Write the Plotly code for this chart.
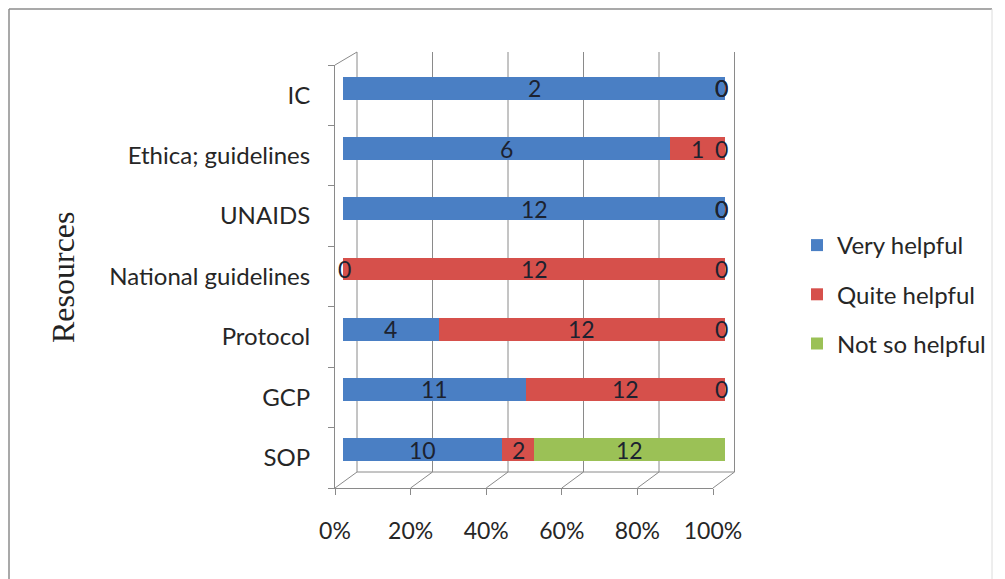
import plotly.graph_objects as go

# ---------------- data ----------------
categories = ["IC", "Ethica; guidelines", "UNAIDS", "National guidelines", "Protocol", "GCP", "SOP"]
very_helpful = [2, 6, 12, 0, 4, 11, 10]
quite_helpful = [0, 1, 0, 12, 12, 12, 2]
not_so_helpful = [0, 0, 0, 0, 0, 0, 12]
series_names = ["Very helpful", "Quite helpful", "Not so helpful"]
x_ticks = [0, 20, 40, 60, 80, 100]
x_tick_labels = ["0%", "20%", "40%", "60%", "80%", "100%"]

colors = ["#4A7FC4", "#D6504B", "#9BC156"]
W, H = 1005, 579
FONT = "Lato"
LABEL_COLOR = "#1c2230"
TEXT_COLOR = "#262626"
OFF = 8  # default page body margin


def px(x):
    return (x - OFF) / W


def py(y):
    return 1 - (y - OFF) / H


series = [very_helpful, quite_helpful, not_so_helpful]

fig = go.Figure()
for name, vals, col in zip(series_names, series, colors):
    fig.add_trace(go.Bar(
        y=categories, x=vals, name=name, orientation="h",
        marker=dict(color=col, line=dict(width=0)),
        xaxis="x", yaxis="y", legendgroup=name, hoverinfo="x+y+name",
    ))

# invisible anchor trace so the front (3D) axes get drawn
fig.add_trace(go.Scatter(
    x=x_ticks[:1], y=[0], mode="markers", marker=dict(opacity=0),
    showlegend=False, hoverinfo="skip", xaxis="x2", yaxis="y2",
))

# data labels (including zero values) placed through the bar axes
annotations = []
for i, cat in enumerate(categories):
    total = sum(s[i] for s in series)
    cum = 0
    for s in series:
        v = s[i]
        xpos = (cum + v / 2) / total * 100
        shift = 0
        if v == 0:
            shift = -4 if xpos >= 99 else 1
        annotations.append(dict(
            x=xpos, y=cat, xref="x", yref="y", text=str(v), showarrow=False,
            xshift=shift, xanchor="center", yanchor="middle",
            font=dict(family=FONT, size=23, color=LABEL_COLOR),
        ))
        cum += v

annotations.append(dict(
    x=px(63), y=py(277), xref="paper", yref="paper", text="Resources",
    textangle=-90, showarrow=False, xanchor="center", yanchor="middle",
    font=dict(family="Liberation Serif", size=32, color="#222222"),
))

# 3D frame decoration (back wall gridlines, floor and wall diagonals)
shapes = []
grid_col = "#8a8a8a"
back_x0, back_dx = 357, 75.5
front_x0, front_dx = 335, 75.6
back_top, back_bot = 52, 472
front_top, front_bot = 65, 488
for k in range(6):
    bx = back_x0 + k * back_dx
    fx = front_x0 + k * front_dx
    shapes.append(dict(type="line", xref="paper", yref="paper",
                       x0=px(bx), x1=px(bx), y0=py(back_bot), y1=py(back_top),
                       line=dict(color=grid_col, width=1), layer="below"))
    shapes.append(dict(type="line", xref="paper", yref="paper",
                       x0=px(fx), x1=px(bx), y0=py(front_bot), y1=py(back_bot),
                       line=dict(color=grid_col, width=1), layer="below"))
shapes.append(dict(type="line", xref="paper", yref="paper",
                   x0=px(back_x0), x1=px(back_x0 + 5 * back_dx), y0=py(back_bot), y1=py(back_bot),
                   line=dict(color=grid_col, width=1), layer="below"))
shapes.append(dict(type="line", xref="paper", yref="paper",
                   x0=px(front_x0), x1=px(back_x0), y0=py(front_top), y1=py(back_top),
                   line=dict(color=grid_col, width=1), layer="below"))
# outer border (just inside the figure area)
shapes.append(dict(type="line", xref="paper", yref="paper", x0=px(9), x1=px(9), y0=py(600), y1=py(9),
                   line=dict(color="#8c8c8c", width=1.5)))
shapes.append(dict(type="line", xref="paper", yref="paper", x0=px(9), x1=px(992), y0=py(9), y1=py(9),
                   line=dict(color="#8c8c8c", width=1.5)))
shapes.append(dict(type="line", xref="paper", yref="paper", x0=px(992), x1=px(992), y0=py(600), y1=py(9),
                   line=dict(color="#dcdcdc", width=1)))

fig.update_layout(
    width=W, height=H,
    margin=dict(l=0, r=0, t=0, b=0, autoexpand=False),
    paper_bgcolor="white", plot_bgcolor="rgba(0,0,0,0)",
    barmode="stack", barnorm="percent", bargap=0.62,
    font=dict(family=FONT, size=22, color=TEXT_COLOR),
    xaxis=dict(domain=[px(343), px(725)], range=[0, 100], visible=False, anchor="y",
               fixedrange=True),
    yaxis=dict(domain=[py(479.6), py(58.4)], type="category", categoryorder="array",
               categoryarray=categories, autorange="reversed", visible=False, anchor="x",
               fixedrange=True),
    xaxis2=dict(domain=[px(front_x0), px(front_x0 + 5 * front_dx)], range=[0, 100],
                anchor="y2", tickvals=x_ticks, ticktext=x_tick_labels, showline=True,
                linecolor=grid_col, linewidth=1, ticks="outside", ticklen=6, tickcolor=grid_col,
                showgrid=False, zeroline=False, ticklabelstandoff=16, fixedrange=True,
                automargin=False,
                tickfont=dict(family=FONT, size=23, color=TEXT_COLOR)),
    yaxis2=dict(domain=[py(front_bot), py(front_top)], range=[len(categories) - 0.5, -0.5],
                anchor="x2", tickvals=list(range(len(categories))), ticktext=categories,
                ticks="", showline=True, linecolor=grid_col, linewidth=1,
                showgrid=False, zeroline=False, ticklabelstandoff=19, fixedrange=True,
                automargin=False,
                minor=dict(tickvals=[i - 0.5 for i in range(len(categories) + 1)],
                           ticks="outside", ticklen=6, tickcolor=grid_col, showgrid=False),
                tickfont=dict(family=FONT, size=24, color=TEXT_COLOR)),
    legend=dict(x=px(797), y=py(223), xanchor="left", yanchor="top",
                traceorder="grouped", tracegroupgap=15,
                font=dict(family=FONT, size=24, color=TEXT_COLOR),
                bgcolor="rgba(0,0,0,0)"),
    annotations=annotations,
    shapes=shapes,
)

fig.write_html("out.html", config={"displayModeBar": False})
